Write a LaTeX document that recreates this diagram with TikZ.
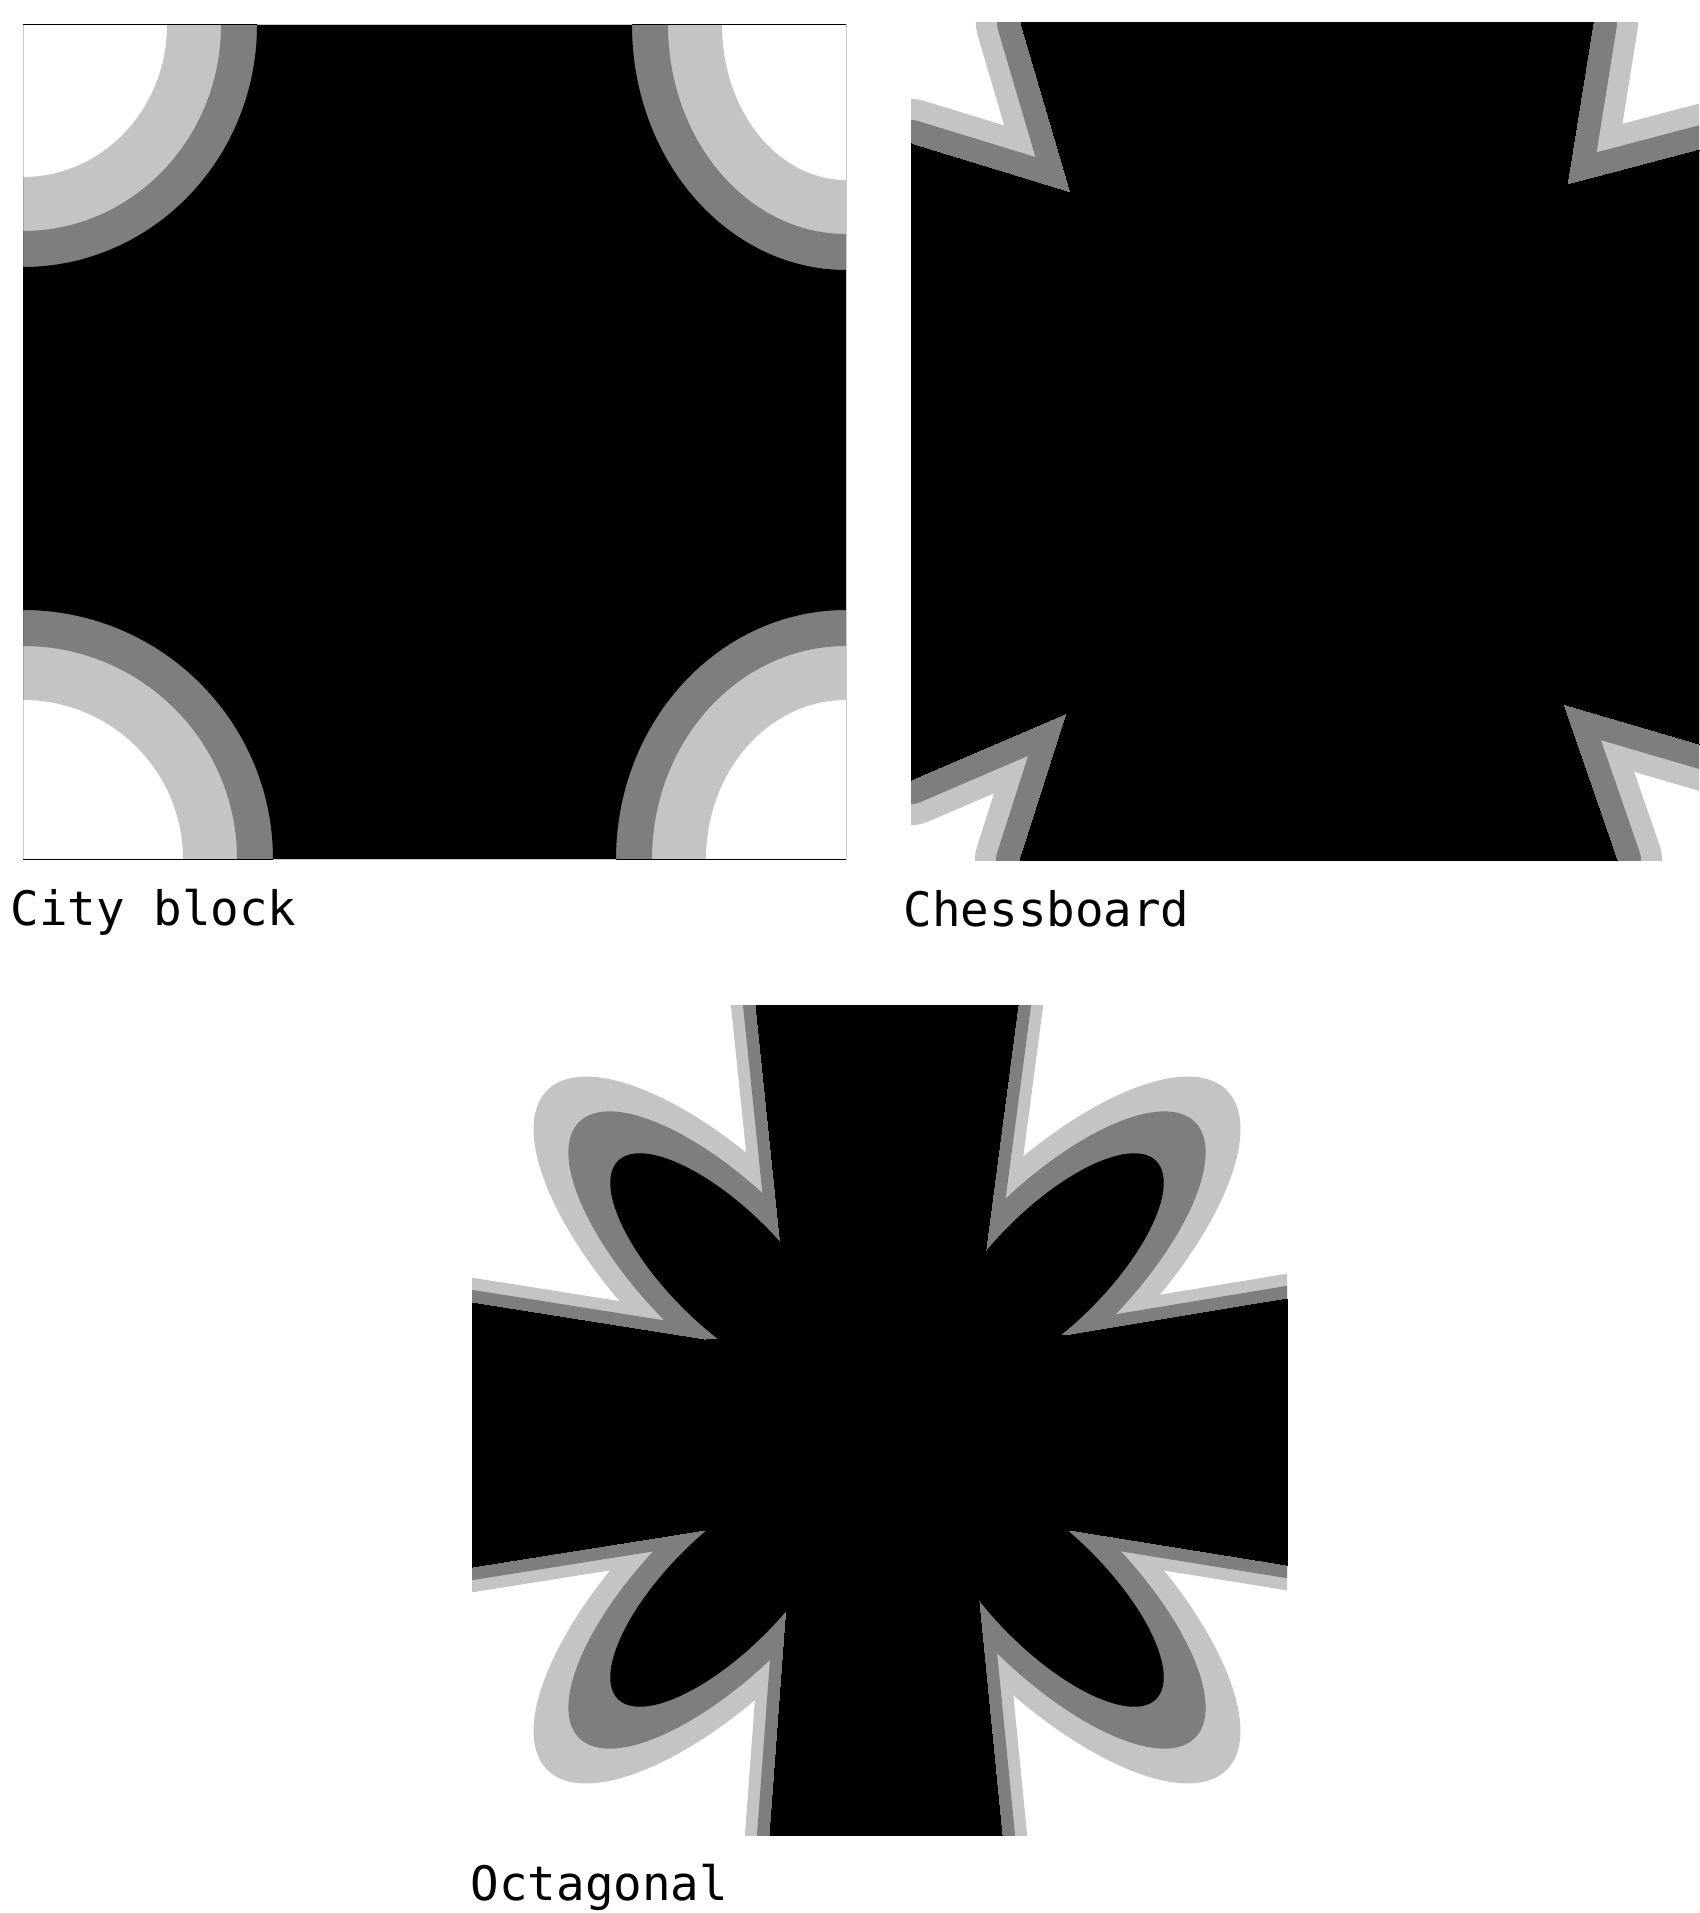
\documentclass[tikz,border=0pt]{standalone}
\usepackage{fontspec}
\setmonofont{DejaVu Sans Mono}
\usepackage{tikz}
\usetikzlibrary{positioning}
\definecolor{Ink}{HTML}{000000}
\definecolor{FringeLight}{HTML}{C4C4C4}
\definecolor{FringeDark}{HTML}{7E7E7E}
\tikzset{
  layer/.style={fill=#1, draw=#1, line join=round},
  layer/.default={Ink},
  caption/.style={anchor=west, inner sep=0pt,
    font=\ttfamily\fontsize{13.5}{15}\selectfont},
}

\begin{document}
\begin{tikzpicture}[x=0.01cm, y=-0.01cm]
  \useasboundingbox (0,0) rectangle (1699,1913);

  % city block
  \begin{scope}
    \clip (23,25) rectangle (846,859);
    \foreach \d/\c in {90/FringeLight, 36/FringeDark, 0/Ink}
      \fill[fill=\c, even odd rule] (23,25) rectangle (846,859)
        (23,25) ellipse[x radius=234-\d, y radius=242-\d]
        (846,25) ellipse[x radius=214-\d, y radius=245-\d]
        (23,859) ellipse[x radius=250-\d, y radius=249-\d]
        (846,859) ellipse[x radius=230-\d, y radius=249-\d];
  \end{scope}

  % chessboard
  \begin{scope}
    \clip (911,23) rectangle (1699,860);
    \foreach \c/\w in {FringeLight/0.9cm, FringeDark/0.48cm, Ink/0cm}
      \filldraw[layer=\c, line width=\w] (1021,23) -- (1593,23) -- (1567,185)
        -- (1730,142) -- (1730,753) -- (1563,704) -- (1617,860) -- (1020,860)
        -- (1067,713) -- (911,780) -- (911,144) -- (1071,193) -- cycle;
  \end{scope}

  % octagonal
  \begin{scope}
    \clip (472,1005) rectangle (1287,1835);
    \foreach \c/\a/\b/\w in {FringeLight/100/42/0.5cm, FringeDark/55/22/0.26cm, Ink/0/0/0cm} {
      \filldraw[layer=\c, line width=\w] (756,1005) -- (1018,1005) -- (962,1430)
        -- (1002,1835) -- (770,1835) -- (800,1430) -- cycle;
      \filldraw[layer=\c, line width=\w] (472,1303) -- (705,1340) -- (1070,1335)
        -- (1287,1299) -- (1287,1565) -- (1070,1530) -- (705,1530) -- (472,1567) -- cycle;
      \fill[fill=\c] (724,1267) ellipse[x radius=150+\a, y radius=58+\b, rotate=-45];
      \fill[fill=\c] (1050,1267) ellipse[x radius=150+\a, y radius=58+\b, rotate=45];
      \fill[fill=\c] (724,1593) ellipse[x radius=150+\a, y radius=58+\b, rotate=45];
      \fill[fill=\c] (1050,1593) ellipse[x radius=150+\a, y radius=58+\b, rotate=-45];
    }
  \end{scope}

  \node[caption] (city) at (10,912) {City block};
  \node[caption] (chess) at (903,909) {Chessboard};
  \node[caption] (octa) at (470,1887) {Octagonal};
\end{tikzpicture}
\end{document}
